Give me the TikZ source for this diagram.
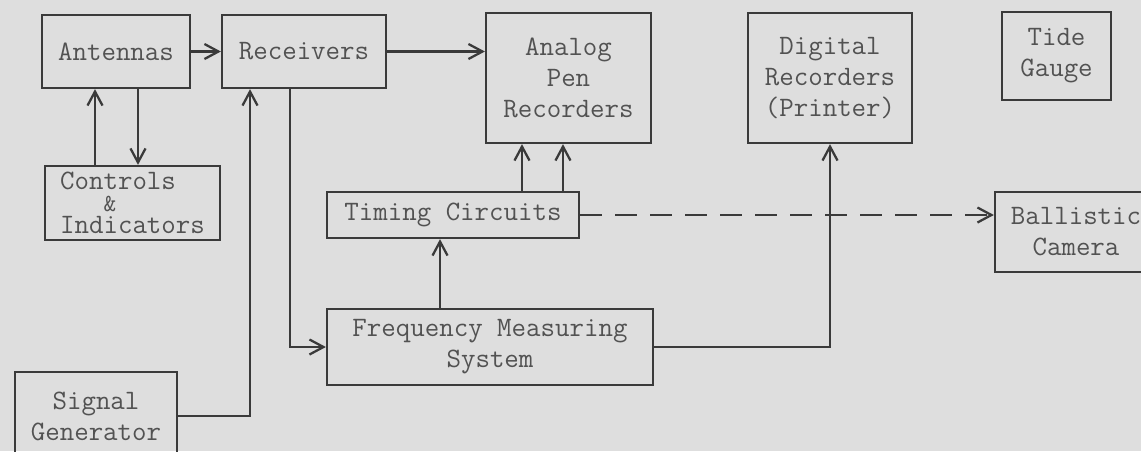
\documentclass[tikz,border=0pt]{standalone}
\usepackage{amsmath,amssymb}
\usepackage{xcolor}
\usetikzlibrary{arrows.meta}
\definecolor{paper}{RGB}{222,222,222}
\definecolor{ink}{RGB}{58,58,58}
\definecolor{typeink}{RGB}{82,82,82}

\begin{document}
\begin{tikzpicture}[x=0.02cm, y=-0.02cm,
  blk/.style={draw=ink, line width=1.3pt, text=typeink, align=center, inner sep=0pt,
    font=\ttfamily\fontsize{16}{17.6}\selectfont},
  arr/.style={draw=ink, line width=1.2pt, -{Straight Barb[length=2.8mm,width=3mm,line width=1.3pt]}}]
\fill[paper] (0,0) rectangle (1141,451);
\useasboundingbox (0,0) rectangle (1141,451);

% top row
\node[blk, minimum width=2.96cm, minimum height=1.46cm] (ant) at (116,51.5) {Antennas};
\node[blk, minimum width=3.28cm, minimum height=1.46cm] (rec) at (304,51.5) {Receivers};
\node[blk, minimum width=3.30cm, minimum height=2.60cm] (apr) at (568.5,78) {Analog\\Pen\\Recorders};
\node[blk, minimum width=3.28cm, minimum height=2.60cm] (dig) at (830,78) {Digital\\Recorders\\(Printer)};
\node[blk, minimum width=2.18cm, minimum height=1.76cm] (tide) at (1056.5,56) {Tide\\Gauge};

% middle and bottom
\node[blk, minimum width=3.50cm, minimum height=1.48cm, align=left] (ctl) at (132.5,203)
  {Controls\\[-5pt]\phantom{Con}{\fontsize{14}{14}\selectfont\&}\\[-5pt]Indicators};
\node[blk, minimum width=5.04cm, minimum height=0.92cm] (tim) at (453,215) {Timing Circuits};
\node[blk, minimum width=3.24cm, minimum height=1.60cm] (bal) at (1076,232) {Ballistic\\Camera};
\node[blk, minimum width=6.52cm, minimum height=1.52cm] (frq) at (490,347) {Frequency Measuring\\System};
\node[blk, minimum width=3.24cm, minimum height=1.76cm] (sig) at (96,416) {Signal\\Generator};

% connectors
\draw[arr] (ant) -- (rec);
\draw[arr] (rec.east) -- (rec.east -| apr.west);
\draw[arr] ([xshift=-0.42cm]ant.south |- ctl.north) -- ([xshift=-0.42cm]ant.south);
\draw[arr] ([xshift=0.44cm]ant.south) -- ([xshift=0.44cm]ant.south |- ctl.north);
\draw[arr] ([xshift=-0.28cm]rec.south) |- (frq.west);
\draw[arr] (sig.east) -| ([xshift=-1.08cm]rec.south);
\draw[arr] ([xshift=-1cm]frq.north) -- ([xshift=-1cm]frq.north |- tim.south);
\draw[arr] ([xshift=1.38cm]tim.north) -- ([xshift=1.38cm]tim.north |- apr.south);
\draw[arr] ([xshift=2.2cm]tim.north) -- ([xshift=2.2cm]tim.north |- apr.south);
\draw[arr] (frq.east) -| (dig.south);
\draw[arr, dash pattern=on 0.44cm off 0.26cm] (tim.east) -- (tim.east -| bal.west);
\end{tikzpicture}
\end{document}
